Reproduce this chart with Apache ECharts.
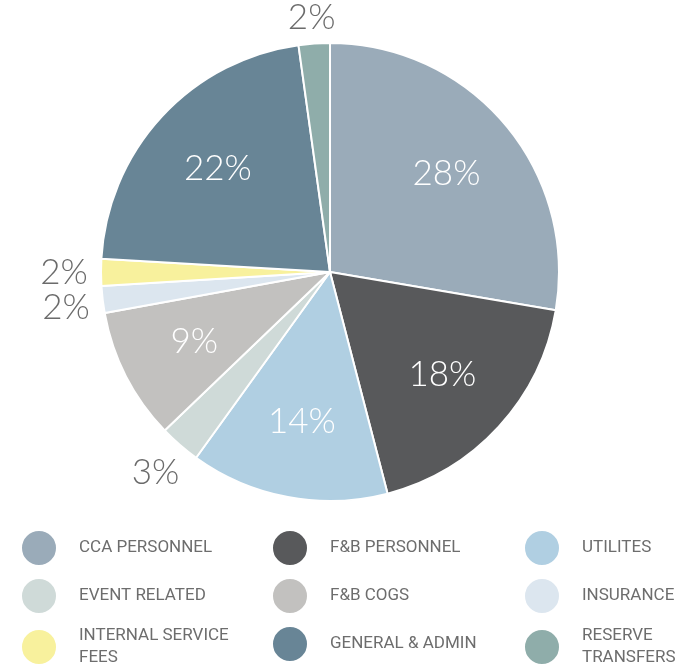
<!DOCTYPE html>
<html>
<head>
<meta charset="utf-8">
<script src="https://cdn.jsdelivr.net/npm/echarts@6/dist/echarts.min.js"></script>
<style>
  html, body { margin: 0; padding: 0; background: #fff; }
  #pie { width: 685px; height: 666px; }
</style>
</head>
<body>
<div id="pie"></div>
<script>
// 分类和数值（从图上读取，百分比）
var categories = ['CCA PERSONNEL', 'F&B PERSONNEL', 'UTILITES', 'EVENT RELATED', 'F&B COGS',
  'INSURANCE', 'INTERNAL SERVICE\nFEES', 'GENERAL & ADMIN', 'RESERVE\nTRANSFERS'];
var values = [27.7, 18.3, 14.0, 2.9, 9.3, 1.9, 1.9, 21.9, 2.2];
var colors = ['#9aabb9', '#58595b', '#b0cfe2', '#cfdad8', '#c2c1bf', '#dce6ef', '#f8f19d', '#688596', '#8fadaa'];
// 图例分三列
var legendCols = [
  ['CCA PERSONNEL', 'EVENT RELATED', 'INTERNAL SERVICE\nFEES'],
  ['F&B PERSONNEL', 'F&B COGS', 'GENERAL & ADMIN'],
  ['UTILITES', 'INSURANCE', 'RESERVE\nTRANSFERS']
];

var pctFont = 'Lato, Roboto, sans-serif';
var legFont = 'Roboto, sans-serif';

var pieData = [];
var innerLabels = [];
var outerLabels = [];
for (var i = 0; i < categories.length; i++) {
  var small = values[i] < 5;
  pieData.push({ name: categories[i], value: values[i] });
  innerLabels.push({ name: categories[i], value: values[i], label: { show: !small } });
  outerLabels.push({ name: categories[i], value: values[i], label: { show: small } });
}

function pct(p) { return Math.round(p.percent) + '%'; }

var legendLeft = [20, 271, 523];
var legends = legendCols.map(function (col, k) {
  return {
    orient: 'vertical',
    left: legendLeft[k],
    top: 529,
    height: 200,
    padding: 0,
    icon: 'circle',
    itemWidth: 36,
    itemHeight: 36,
    itemGap: 10,
    selectedMode: false,
    data: col,
    textStyle: {
      fontFamily: legFont,
      fontSize: 17,
      color: '#6d6d6d',
      lineHeight: 22,
      padding: [0, 0, 0, 17]
    }
  };
});

var myChart = echarts.init(document.getElementById('pie'));
var option = {
  color: colors,
  animation: false,
  legend: legends,
  series: [
    {
      name: 'pie',
      type: 'pie',
      center: [330, 272],
      radius: [0, 229],
      startAngle: 90,
      data: pieData,
      itemStyle: { borderColor: '#fff', borderWidth: 2 },
      label: { show: false },
      labelLine: { show: false },
      emphasis: { disabled: true }
    },
    {
      // 内部标签
      name: 'inner',
      type: 'pie',
      center: [330, 272],
      radius: [70, 229],
      startAngle: 90,
      silent: true,
      data: innerLabels,
      itemStyle: { color: 'transparent' },
      label: {
        position: 'inside',
        formatter: pct,
        fontFamily: pctFont,
        fontWeight: 300,
        fontSize: 35,
        color: '#fff'
      },
      labelLine: { show: false },
      emphasis: { disabled: true }
    },
    {
      // 外部小扇区标签
      name: 'outer',
      type: 'pie',
      center: [330, 272],
      radius: [229, 297],
      startAngle: 90,
      silent: true,
      avoidLabelOverlap: false,
      data: outerLabels,
      itemStyle: { color: 'transparent' },
      label: {
        position: 'inside',
        formatter: pct,
        fontFamily: pctFont,
        fontWeight: 300,
        fontSize: 35,
        color: '#6b6b6b',
        padding: [8, 0, 8, 0]
      },
      labelLayout: { moveOverlap: 'shiftY' },
      labelLine: { show: false },
      emphasis: { disabled: true }
    }
  ]
};
myChart.setOption(option);
</script>
</body>
</html>
